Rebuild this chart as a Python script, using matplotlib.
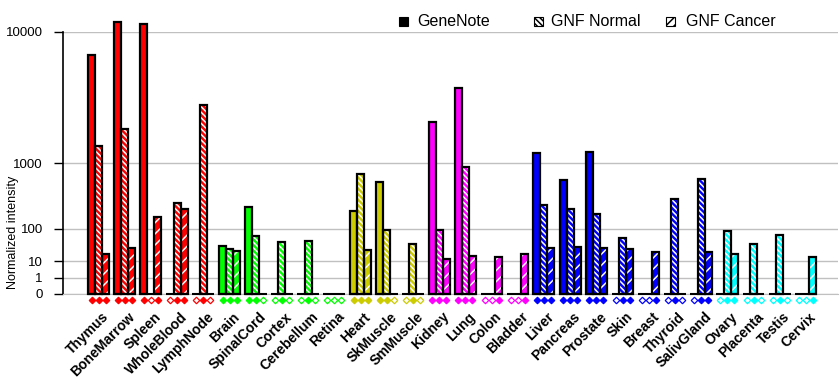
import numpy as np
import matplotlib
matplotlib.use("Agg")
import matplotlib.pyplot as plt
from matplotlib.patches import Rectangle
from matplotlib.transforms import blended_transform_factory

plt.rcParams['font.family'] = ['Liberation Sans', 'DejaVu Sans']
plt.rcParams['hatch.linewidth'] = 1.1

tissues = ["Thymus", "BoneMarrow", "Spleen", "WholeBlood", "LymphNode",
           "Brain", "SpinalCord", "Cortex", "Cerebellum", "Retina",
           "Heart", "SkMuscle", "SmMuscle",
           "Kidney", "Lung", "Colon", "Bladder",
           "Liver", "Pancreas", "Prostate", "Skin", "Breast", "Thyroid", "SalivGland",
           "Ovary", "Placenta", "Testis", "Cervix"]
group_colors = (["#FF0000"] * 5 + ["#00FF00"] * 5 + ["#CCCC00"] * 3 +
                ["#FF00FF"] * 4 + ["#0000FF"] * 7 + ["#00FFFF"] * 4)

genenote = [7400, 11300, 11000, 0, 0,
            36, 257, 0, 0, 0,
            222, 600, 0,
            2470, 4500, 0, 0,
            1290, 630, 1320, 0, 0, 0, 0,
            0, 0, 0, 0]
gnf_normal = [1510, 2150, 0, 300, 3380,
              29, 67, 47, 50, 0,
              754, 94, 41,
              94, 910, 0, 0,
              280, 238, 194, 59, 0, 344, 649,
              89, 41, 71, 0]
gnf_cancer = [19, 31, 171, 238, 0,
              25, 0, 0, 0, 0,
              27, 0, 0,
              13, 16, 15, 20,
              32, 34, 30, 29, 23, 0, 23,
              19, 0, 0, 15]

P = np.log10(2)


def fwd(v):
    v = np.asarray(v, dtype=float)
    return np.sign(v) * np.abs(v) ** P


def inv(u):
    u = np.asarray(u, dtype=float)
    return np.sign(u) * np.abs(u) ** (1 / P)


W, H = 840, 385
fig = plt.figure(figsize=(8.4, 3.85), dpi=100)
ax = fig.add_axes([63 / W, 1 - 294 / H, 775 / W, 262 / H])
ax.set_yscale('function', functions=(fwd, inv))
ax.set_ylim(0, 10000)
ax.set_xlim(-1.355, 28.225)

x = np.arange(len(tissues))
bw = 7 / 26.2
series = [(genenote, None), (gnf_normal, '\\' * 6), (gnf_cancer, '///')]

for k, (vals, hatch) in enumerate(series):
    xs = x + (k - 1) * bw
    for xi, v, c in zip(xs, vals, group_colors):
        if v > 0:
            ax.bar(xi, v, bw, color=c, edgecolor='white' if hatch else c,
                   hatch=hatch, linewidth=0, clip_on=False, zorder=3)
            ax.bar(xi, v, bw, facecolor='none', edgecolor='black',
                   linewidth=1.6, clip_on=False, zorder=4)

# black baseline under each group
ax.hlines([0.0] * len(x), x - 1.55 * bw, x + 1.55 * bw, color='black',
          linewidth=1.5, zorder=5, clip_on=False)

# presence markers under the bars
tr = blended_transform_factory(ax.transData, ax.transAxes)
for k, (vals, _) in enumerate(series):
    xs = x + (k - 1) * bw
    for xi, v, c in zip(xs, vals, group_colors):
        ax.plot(xi, -0.021, marker='D', markersize=3.3, transform=tr,
                markerfacecolor=c if v > 0 else 'white', markeredgecolor=c,
                markeredgewidth=0.9, clip_on=False, zorder=6)

ax.set_yticks([0, 1, 10, 100, 1000, 10000])
ax.set_yticklabels(["0", "1", "10", "100", "1000", "10000"], fontsize=9.5)
ax.yaxis.grid(True, color='#C0C0C0', linewidth=1)
ax.set_axisbelow(True)
ax.tick_params(axis='y', direction='out', length=6.5, width=1, pad=8)
ax.tick_params(axis='x', length=0)
ax.set_xticks(x)
ax.set_xticklabels([])
for s in ['top', 'right']:
    ax.spines[s].set_visible(False)
ax.spines['bottom'].set_color('#C0C0C0')
ax.spines['left'].set_color('black')
ax.spines['left'].set_linewidth(1.2)

for xi, name in zip(x, tissues):
    ax.text(xi + 0.12, -0.06, name, transform=tr, rotation=45,
            ha='right', va='top', rotation_mode='anchor',
            fontsize=10, fontweight='bold')

fig.text(13 / W, 1 - 232 / H, "Normalized intensity", rotation=90,
         ha='center', va='center', fontsize=9)

# legend at the top
legend_items = [(399, 417, "GeneNote", 'black', None),
                (534, 551, "GNF Normal", 'white', '\\' * 6),
                (666, 686, "GNF Cancer", 'white', '////')]
for sx, tx, label, fc, hatch in legend_items:
    fig.patches.append(Rectangle((sx / W, 1 - 26 / H), 9 / W, 9 / H,
                                 transform=fig.transFigure, facecolor=fc,
                                 edgecolor='black', hatch=hatch, linewidth=0.8))
    fig.text(tx / W, 1 - 21 / H, label, ha='left', va='center', fontsize=11.5)

fig.savefig("out.png", dpi=100)
